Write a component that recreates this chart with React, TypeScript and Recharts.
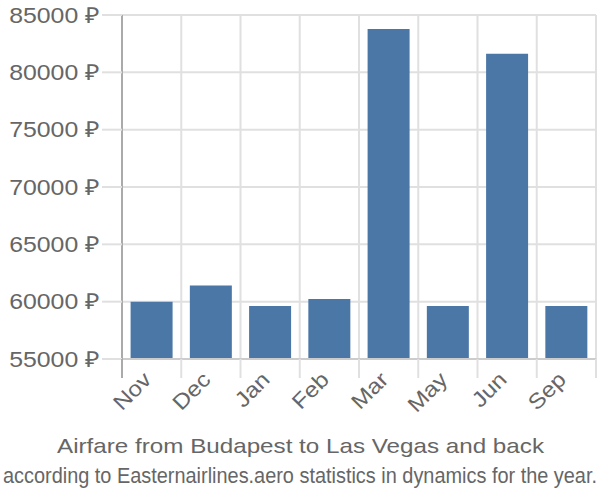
import React from "react"
import { BarChart, Bar, XAxis, YAxis, CartesianGrid } from "recharts"

const months = ["Nov", "Dec", "Jan", "Feb", "Mar", "May", "Jun", "Sep"]
const prices = [60000, 61420, 59620, 60230, 83780, 59620, 81620, 59620]
const yTicks = [55000, 60000, 65000, 70000, 75000, 80000, 85000]

const data = months.map((m, i) => ({ month: m, price: prices[i] }))

const GRID = "#e0e0e0"
const AXIS = "#aaaaaa"
const TEXT = "#666666"
const FONT = "'Liberation Sans', Arial, sans-serif"
// reference text is a bit wider than plain Liberation Sans
const STRETCH = 1.13
// ...and the subtitle is squeezed to fit the width
const SQUEEZE = 0.86

function MonthTick(props: any) {
  const { x, y, payload, index } = props
  const half = payload.offset ?? 29.6
  const ax = x + 1
  const ay = y + 22
  return (
    <g>
      <line x1={x - half} y1={y} x2={x - half} y2={y + 19} stroke={index === 0 ? AXIS : GRID} strokeWidth={2} />
      {index === months.length - 1 && (
        <line x1={x + half} y1={y} x2={x + half} y2={y + 19} stroke={GRID} strokeWidth={2} />
      )}
      <g transform={`translate(${ax},${ay}) rotate(-45) scale(${STRETCH},1)`}>
        <text x={0} y={0} textAnchor="end" fill={TEXT} fontSize={21.5} fontFamily={FONT}>
          {payload.value}
        </text>
      </g>
    </g>
  )
}

function PriceTick(props: any) {
  const { x, y, payload } = props
  return (
    <g transform={`translate(${x},${y}) scale(${STRETCH},1)`}>
      <text x={0} y={0} dy="0.355em" textAnchor="end" fill={TEXT} fontSize={22} fontFamily={FONT}>
        {`${payload.value} ₽`}
      </text>
    </g>
  )
}

export default function App() {
  return (
    <div style={{ position: "absolute", left: 0, top: 0, width: 600, height: 500, background: "#fff" }}>
      <BarChart
        width={600}
        height={500}
        data={data}
        margin={{ top: 15, right: 4, bottom: 81, left: 0 }}
        barCategoryGap="14.5%"
      >
        <CartesianGrid
          stroke={GRID}
          strokeWidth={2}
          verticalCoordinatesGenerator={({ offset }: any) =>
            Array.from({ length: months.length + 1 }, (_, i) => offset.left + (i * offset.width) / months.length)
          }
        />
        <XAxis
          dataKey="month"
          height={60}
          tickSize={0}
          tickMargin={0}
          tickLine={false}
          axisLine={{ stroke: "#cccccc", strokeWidth: 2 }}
          tick={<MonthTick />}
          interval={0}
        />
        <YAxis
          width={122}
          domain={[55000, 85000]}
          ticks={yTicks}
          allowDataOverflow
          tickSize={20}
          tickMargin={2}
          tickLine={{ stroke: GRID, strokeWidth: 2 }}
          axisLine={{ stroke: AXIS, strokeWidth: 2 }}
          tick={<PriceTick />}
        />
        <Bar dataKey="price" fill="#4b77a7" isAnimationActive={false} />
      </BarChart>
      <svg width={600} height={500} style={{ position: "absolute", left: 0, top: 0, pointerEvents: "none" }}>
        <text
          x={300.5}
          y={453}
          textAnchor="middle"
          fill={TEXT}
          fontSize={21}
          fontFamily={FONT}
          textLength={487}
          lengthAdjust="spacingAndGlyphs"
        >
          Airfare from Budapest to Las Vegas and back
        </text>
        <g transform={`translate(300,483) scale(${SQUEEZE},1)`}>
          <text
            x={0}
            y={0}
            textAnchor="middle"
            fill={TEXT}
            fontSize={22}
            fontFamily={FONT}
            textLength={594 / SQUEEZE}
            lengthAdjust="spacingAndGlyphs"
          >
            according to Easternairlines.aero statistics in dynamics for the year.
          </text>
        </g>
      </svg>
    </div>
  )
}
